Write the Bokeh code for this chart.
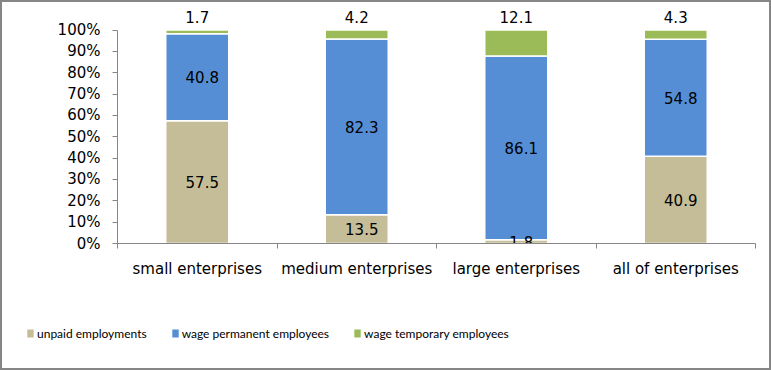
from bokeh.plotting import figure
from bokeh.layouts import column
from bokeh.models import (ColumnDataSource, Range1d, LinearAxis, FixedTicker, Legend, LegendItem)
from bokeh.core.properties import value
from bokeh.embed import file_html
from bokeh.resources import INLINE

# ---- data ----
categories = ["small enterprises", "medium enterprises", "large enterprises", "all of enterprises"]
series_names = ["unpaid employments", "wage permanent employees", "wage temporary employees"]
unpaid = [57.5, 13.5, 1.8, 40.9]
permanent = [40.8, 82.3, 86.1, 54.8]
temporary = [1.7, 4.2, 12.1, 4.3]
y_ticks = [0, 10, 20, 30, 40, 50, 60, 70, 80, 90, 100]
y_tick_labels = ["0%", "10%", "20%", "30%", "40%", "50%", "60%", "70%", "80%", "90%", "100%"]

# ---- styles ----
colors = ["#C4BD97", "#558ED5", "#9BBB59"]
axis_color = "#868686"
FONT = "DejaVu Sans"
W = 767

n = len(categories)
xc = [i + 0.5 for i in range(n)]          # category slot centres
keys = ["unpaid", "permanent", "temporary"]
src = ColumnDataSource(dict(x=xc, unpaid=unpaid, permanent=permanent, temporary=temporary))

p = figure(width=W, height=295,
           x_range=Range1d(0, n), y_range=Range1d(0, 112),
           output_backend="svg", toolbar_location=None,
           x_axis_location=None,
           min_border_left=115, min_border_right=14, min_border_top=2, min_border_bottom=54)
p.frame_align = False

renderers = p.vbar_stack(keys, x="x", width=0.395, color=colors, source=src,
                         line_color="white", line_width=1.5)

# segment labels (inside bars) for first two series
lab_x, lab_y, lab_t = [], [], []
for i in range(n):
    lab_x += [xc[i], xc[i]]
    lab_y += [unpaid[i] / 2.0, unpaid[i] + permanent[i] / 2.0]
    lab_t += ["%.1f" % unpaid[i], "%.1f" % permanent[i]]
p.text(x=lab_x, y=lab_y, text=lab_t, text_align="center", text_baseline="middle",
       x_offset=5, text_font=value(FONT), text_font_size="15px", text_color="black")

# top labels (temporary share) above the bars
p.text(x=xc, y=[sum(v) for v in zip(unpaid, permanent, temporary)],
       text=["%.1f" % t for t in temporary], text_align="center", text_baseline="middle",
       y_offset=-13, text_font=value(FONT), text_font_size="15px", text_color="black")

# y axis
p.yaxis.ticker = FixedTicker(ticks=y_ticks)
p.yaxis.major_label_overrides = dict(zip(y_ticks, y_tick_labels))
p.yaxis.bounds = (0, 100)
p.yaxis.minor_tick_line_color = None
p.yaxis.major_tick_in = 0
p.yaxis.major_tick_out = 5
p.yaxis.axis_line_color = axis_color
p.yaxis.major_tick_line_color = axis_color
p.yaxis.major_label_standoff = 12
p.yaxis.major_label_text_font = FONT
p.yaxis.major_label_text_font_size = "15px"
p.yaxis.major_label_text_color = "black"

# x axes: boundary ticks + category labels
bounds = list(range(n + 1))
tick_axis = LinearAxis(ticker=FixedTicker(ticks=bounds),
                       major_label_overrides={b: "" for b in bounds},
                       major_label_standoff=0,
                       major_tick_in=0, major_tick_out=5,
                       axis_line_color=axis_color, major_tick_line_color=axis_color,
                       minor_tick_line_color=None)
p.add_layout(tick_axis, "below")
cat_axis = LinearAxis(ticker=FixedTicker(ticks=xc),
                      major_label_overrides=dict(zip(xc, categories)),
                      major_tick_line_color=None, major_tick_out=0, major_tick_in=0,
                      minor_tick_line_color=None,
                      axis_line_color=None, major_label_standoff=11,
                      major_label_text_font=FONT, major_label_text_font_size="15px",
                      major_label_text_color="black")
p.add_layout(cat_axis, "below")

p.grid.grid_line_color = None
p.outline_line_color = None

# ---- legend strip (hidden series proxies) ----
q = figure(width=W, height=71, x_range=Range1d(0, n), y_range=Range1d(0, 100),
           output_backend="svg", toolbar_location=None,
           x_axis_location=None, y_axis_location=None,
           min_border_left=0, min_border_right=0, min_border_top=0, min_border_bottom=0)
q.frame_align = False
q.grid.grid_line_color = None
q.outline_line_color = None
proxies = q.vbar_stack(keys, x="x", width=0.395, color=colors, source=src, line_color=None)
for r in proxies:
    r.visible = False
legend = Legend(items=[LegendItem(label=s, renderers=[r]) for s, r in zip(series_names, proxies)],
                orientation="horizontal", location=(24, 27),
                padding=0, margin=0, spacing=24, glyph_width=8, glyph_height=10,
                label_standoff=3, label_height=16, border_line_color=None, background_fill_alpha=0,
                inactive_fill_alpha=0,
                label_text_font="Lato", label_text_font_size="12px",
                label_text_color="black")
q.add_layout(legend)

layout = column(p, q, spacing=0,
                styles={"border": "2px solid #868686", "box-sizing": "content-box"})

open("out.html", "w").write(file_html(layout, INLINE))
